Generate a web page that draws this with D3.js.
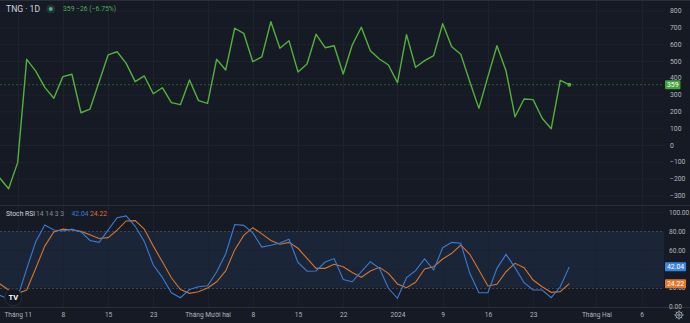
<!DOCTYPE html>
<html>
<head>
<meta charset="utf-8">
<script src="https://cdn.jsdelivr.net/npm/d3@7/dist/d3.min.js"></script>
<style>
  html, body { margin: 0; padding: 0; background: #161a25; }
  svg { display: block; }
  text { font-family: Roboto, "Liberation Sans", sans-serif; }
</style>
</head>
<body>
<svg id="chart" width="690" height="323"></svg>
<script>
// Daily closing price of TNG (one value per trading session)
const price = [
  -195, -260, -105, 510, 440, 343, 278, 407, 421, 192,
  214, 375, 536, 555, 486, 377, 411, 305, 341, 252,
  240, 387, 264, 248, 510, 446, 695, 665, 496, 524,
  734, 576, 621, 435, 482, 659, 579, 591, 423, 595,
  701, 561, 512, 476, 371, 657, 463, 502, 532, 722,
  585, 540, 377, 218, 407, 591, 442, 168, 274, 270,
  159, 97, 385, 359
];

// Stoch RSI (14, 14, 3, 3): %K and %D lines
const stochK = [
  12, 8, 10, 40, 68.7, 86.3, 81, 80, 82, 79,
  70, 68, 81, 94, 96, 85, 69, 44, 31, 14.6,
  9.4, 18, 21, 22, 36.6, 55.7, 86.8, 86, 78, 63,
  65, 67.3, 71.3, 46.7, 37.4, 37.7, 47.2, 50.8, 28.7, 26.3,
  36.9, 47.5, 40.5, 19.4, 8.8, 30.6, 38, 50.4, 38.7, 62.3,
  68, 67, 35.2, 14.7, 14.7, 40.5, 55.3, 41.2, 25.3, 17.6,
  17.6, 9.4, 21, 42.04
];
const stochD = [
  24.2, 17.6, 14, 17.6, 40.5, 64, 79, 82, 81, 79.6,
  76, 72, 73, 81, 90.6, 91, 82, 64, 47.5, 30.5,
  18, 14, 15.8, 19.7, 26.3, 37.7, 60, 75.3, 83.5, 77,
  70, 66, 68, 61.7, 51, 40.5, 40.5, 44.8, 42.2, 36,
  31, 37.7, 41.6, 35.2, 24, 20, 25.7, 39.8, 42.2, 50.4,
  56.4, 65.2, 55.3, 38.7, 21.8, 23.6, 36.9, 45.8, 41.2, 28.1,
  21, 15.1, 15.8, 24.22
];

// Time axis: session index of each label and its text
const timeTickIndex = [2, 7, 12, 17, 23, 28, 33, 38, 44, 49, 54, 59, 66, 71];
const timeTickLabels = ["Tháng 11", "8", "15", "23", "Tháng Mười hai", "8", "15", "22",
                        "2024", "9", "16", "23", "Tháng Hai", "6"];
const priceTicks = [800, 700, 600, 500, 400, 300, 200, 100, 0, -100, -200, -300];
const rsiTicks = [100, 80, 60, 20, 0];
const rsiGrid = [100, 80, 60, 40, 20, 0];
const rsiBand = [20, 80];

const symbol = "TNG · 1D";
const lastPrice = 359, change = -26, changePct = -6.75;

const W = 690, H = 323;
const plotRight = 664;
const colors = {
  bg: "#161a25", grid: "#1e222d", border: "#2a2e39", text: "#b2b5be",
  price: "#52b23a", k: "#3a7bd6", d: "#d6742c", band: "#1b2538"
};

const svg = d3.select("#chart");
svg.append("rect").attr("width", W).attr("height", H).attr("fill", colors.bg);

const x = d3.scaleLinear().domain([0, price.length - 1]).range([-0.43, 569.3]);
const yP = d3.scaleLinear().domain([-300, 800]).range([195.4, 10.6]);
const yR = d3.scaleLinear().domain([0, 100]).range([306.6, 212.1]);

const mainTop = 1, mainBottom = 205, rsiTop = 206, rsiBottom = 307;

// clip regions for the two panes
const defs = svg.append("defs");
defs.append("clipPath").attr("id", "clipMain").append("rect")
  .attr("x", 0).attr("y", mainTop).attr("width", plotRight).attr("height", mainBottom - mainTop);
defs.append("clipPath").attr("id", "clipRsi").append("rect")
  .attr("x", 0).attr("y", rsiTop).attr("width", plotRight).attr("height", rsiBottom - rsiTop);

// ---- grid ----
const gMain = svg.append("g").attr("clip-path", "url(#clipMain)");
const gRsi = svg.append("g").attr("clip-path", "url(#clipRsi)");

gMain.selectAll(".hg").data(priceTicks).enter().append("line")
  .attr("x1", 0).attr("x2", plotRight)
  .attr("y1", d => yP(d) + 0.5).attr("y2", d => yP(d) + 0.5)
  .attr("stroke", colors.grid).attr("stroke-width", 1);
gMain.selectAll(".vg").data(timeTickIndex).enter().append("line")
  .attr("x1", d => Math.round(x(d)) + 0.5).attr("x2", d => Math.round(x(d)) + 0.5)
  .attr("y1", mainTop).attr("y2", mainBottom)
  .attr("stroke", colors.grid);

// RSI band between 20 and 80
gRsi.append("rect")
  .attr("x", 0).attr("width", plotRight)
  .attr("y", yR(rsiBand[1])).attr("height", yR(rsiBand[0]) - yR(rsiBand[1]))
  .attr("fill", colors.band);
gRsi.selectAll(".hg").data(rsiGrid).enter().append("line")
  .attr("x1", 0).attr("x2", plotRight)
  .attr("y1", d => yR(d) + 0.5).attr("y2", d => yR(d) + 0.5)
  .attr("stroke", colors.grid).attr("stroke-opacity", 0.8);
gRsi.selectAll(".vg").data(timeTickIndex).enter().append("line")
  .attr("x1", d => Math.round(x(d)) + 0.5).attr("x2", d => Math.round(x(d)) + 0.5)
  .attr("y1", rsiTop).attr("y2", rsiBottom)
  .attr("stroke", colors.grid).attr("stroke-opacity", 0.8);
gRsi.selectAll(".bandline").data(rsiBand).enter().append("line")
  .attr("x1", 0).attr("x2", plotRight)
  .attr("y1", d => Math.round(yR(d)) + 0.5).attr("y2", d => Math.round(yR(d)) + 0.5)
  .attr("stroke", "#3d4354").attr("stroke-dasharray", "2,2");

// pane borders
svg.append("line").attr("x1", 0).attr("x2", W).attr("y1", 0.5).attr("y2", 0.5).attr("stroke", colors.border);
svg.append("line").attr("x1", 0).attr("x2", W).attr("y1", mainBottom + 0.5).attr("y2", mainBottom + 0.5)
  .attr("stroke", colors.border);
svg.append("line").attr("x1", 0).attr("x2", W).attr("y1", rsiBottom + 0.5).attr("y2", rsiBottom + 0.5)
  .attr("stroke", colors.border);

// ---- price line ----
gMain.append("line")
  .attr("x1", 0).attr("x2", plotRight)
  .attr("y1", yP(lastPrice)).attr("y2", yP(lastPrice))
  .attr("stroke", colors.price).attr("stroke-opacity", 0.4).attr("stroke-dasharray", "2,2");
gMain.append("path").datum(price)
  .attr("fill", "none").attr("stroke", colors.price).attr("stroke-width", 1.4)
  .attr("stroke-linejoin", "round")
  .attr("d", d3.line().x((d, i) => x(i)).y(d => yP(d)));
gMain.append("circle")
  .attr("cx", x(price.length - 1)).attr("cy", yP(price[price.length - 1]))
  .attr("r", 2).attr("fill", colors.price);

// ---- stoch RSI lines ----
const rsiLine = d3.line().x((d, i) => x(i)).y(d => yR(d));
gRsi.append("path").datum(stochD)
  .attr("fill", "none").attr("stroke", colors.d).attr("stroke-width", 1.1).attr("d", rsiLine);
gRsi.append("path").datum(stochK)
  .attr("fill", "none").attr("stroke", colors.k).attr("stroke-width", 1.1).attr("d", rsiLine);

// ---- axes ----
const axisStyle = size => g => {
  g.select(".domain").remove();
  g.selectAll(".tick line").remove();
  g.selectAll("text").attr("fill", colors.text).attr("font-size", size);
};

svg.append("g").attr("transform", `translate(${plotRight},0)`)
  .call(d3.axisRight(yP).tickValues(priceTicks).tickSize(0).tickPadding(6)
    .tickFormat(d => d < 0 ? "−" + Math.abs(d) : d))
  .call(axisStyle(6.8));

svg.append("g").attr("transform", `translate(${plotRight},0)`)
  .call(d3.axisRight(yR).tickValues(rsiTicks).tickSize(0).tickPadding(5).tickFormat(d3.format(".2f")))
  .call(axisStyle(6.6));

svg.append("g").attr("transform", `translate(0,${rsiBottom})`)
  .call(d3.axisBottom(x).tickValues(timeTickIndex).tickSize(0).tickPadding(5)
    .tickFormat((d, i) => timeTickLabels[i]))
  .call(axisStyle(6.6));

// ---- value tags on the right scale ----
function tag(yv, label, fill) {
  const g = svg.append("g");
  const t = g.append("text").attr("x", plotRight + 3).attr("y", yv).attr("dy", "0.35em")
    .attr("fill", "#ffffff").attr("font-size", 6.8).text(label);
  const w = t.node().getComputedTextLength();
  g.insert("rect", "text")
    .attr("x", plotRight + 1).attr("y", yv - 4.5).attr("width", w + 4).attr("height", 9)
    .attr("rx", 1).attr("fill", fill);
}
tag(yP(lastPrice), String(lastPrice), "#3fa33b");
tag(yR(stochK[stochK.length - 1]), stochK[stochK.length - 1].toFixed(2), "#3a83e0");
tag(yR(stochD[stochD.length - 1]), stochD[stochD.length - 1].toFixed(2), "#e2782b");

// ---- legends ----
svg.append("text").attr("x", 6).attr("y", 9).attr("dy", "0.35em")
  .attr("fill", "#d1d4dc").attr("font-size", 8.6).text(symbol);
svg.append("circle").attr("cx", 50.7).attr("cy", 9).attr("r", 4.5).attr("fill", "#2a2e39");
svg.append("circle").attr("cx", 50.7).attr("cy", 9).attr("r", 2).attr("fill", "#2ebd85");
svg.append("text").attr("x", 63).attr("y", 9).attr("dy", "0.35em")
  .attr("fill", "#4caf50").attr("font-size", 6.8)
  .text(`${lastPrice}  −${Math.abs(change)} (−${Math.abs(changePct).toFixed(2)}%)`);

const leg = svg.append("text").attr("y", 213.5).attr("dy", "0.35em").attr("font-size", 6.8);
leg.append("tspan").attr("x", 6).attr("fill", "#d1d4dc").text("Stoch RSI");
leg.append("tspan").attr("x", 36).attr("fill", "#868993").text("14 14 3 3");
leg.append("tspan").attr("x", 71.5).attr("fill", colors.k).text(stochK[stochK.length - 1].toFixed(2));
leg.append("tspan").attr("x", 90).attr("fill", colors.d).text(stochD[stochD.length - 1].toFixed(2));

// ---- TradingView badge ----
const badge = svg.append("g").attr("transform", "translate(13.3,297.3)");
badge.append("circle").attr("r", 8.5).attr("fill", "#131722").attr("stroke", "#2a2e39");
badge.append("text").attr("text-anchor", "middle").attr("dy", "0.35em")
  .attr("fill", "#ffffff").attr("font-size", 7.5).attr("font-weight", "bold").text("TV");

// ---- settings gear ----
const gear = svg.append("g").attr("transform", "translate(679,315)")
  .attr("stroke", colors.text).attr("fill", "none").attr("stroke-width", 0.9);
gear.append("circle").attr("r", 3.2);
gear.append("circle").attr("r", 1.2);
d3.range(8).forEach(k => {
  const a = k * Math.PI / 4;
  gear.append("line").attr("x1", Math.cos(a) * 3.2).attr("y1", Math.sin(a) * 3.2)
    .attr("x2", Math.cos(a) * 4.6).attr("y2", Math.sin(a) * 4.6);
});
</script>
</body>
</html>
